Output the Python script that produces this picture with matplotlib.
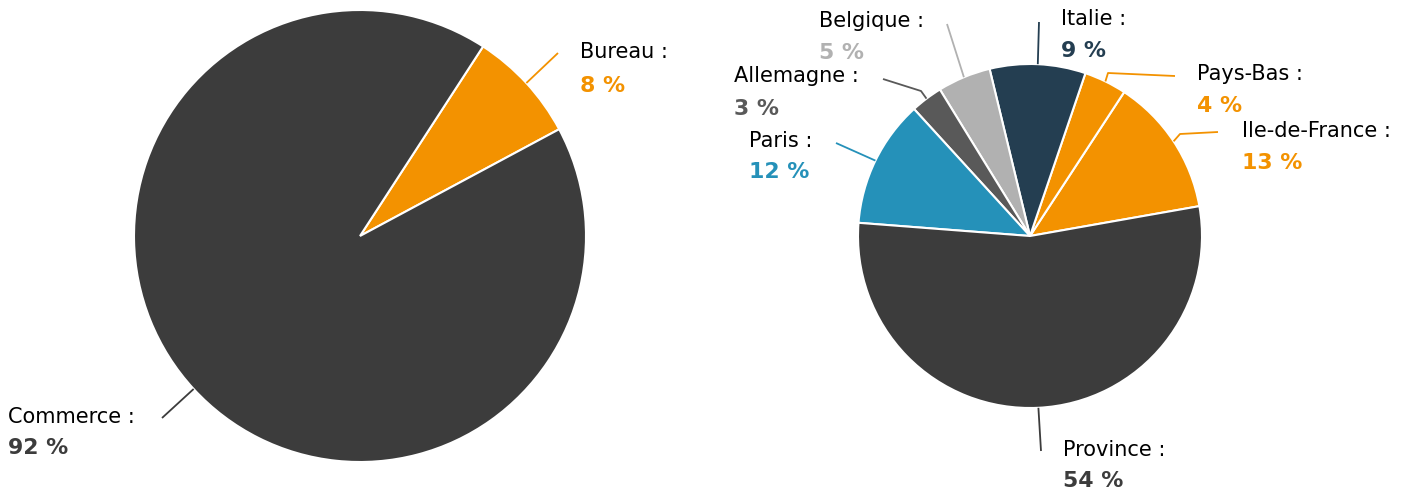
import numpy as np
import matplotlib
matplotlib.use("Agg")
import matplotlib.pyplot as plt

# ---- data ----
left_labels = ["Bureau", "Commerce"]
left_values = [8, 92]
left_colors = ["#f39200", "#3c3c3c"]

right_labels = ["Ile-de-France", "Pays-Bas", "Italie", "Belgique", "Allemagne", "Paris", "Province"]
right_values = [13, 4, 9, 5, 3, 12, 54]
right_colors = ["#f39200", "#f39200", "#243e51", "#b1b1b1", "#595959", "#2591b9", "#3c3c3c"]

W, H = 1407, 493
fig = plt.figure(figsize=(W / 100, H / 100), dpi=100)
ax = fig.add_axes([0, 0, 1, 1])
ax.set_xlim(0, W)
ax.set_ylim(0, H)
ax.set_aspect("equal")
ax.axis("off")

FS_NAME = 15
FS_VAL = 15.8

def Y(y):
    return H - y

def draw_pie(values, labels, colors, center, radius, startangle, layout):
    wedges, _ = ax.pie(values, colors=colors, startangle=startangle, counterclock=True,
                       center=(center[0], Y(center[1])), radius=radius,
                       wedgeprops=dict(edgecolor="white", linewidth=1.5))
    ax.set_xlim(0, W)
    ax.set_ylim(0, H)
    for w, lab, col, val, lay in zip(wedges, labels, colors, values, layout):
        mid = np.deg2rad((w.theta1 + w.theta2) / 2)
        sx = center[0] + radius * np.cos(mid)
        sy = Y(center[1]) + radius * np.sin(mid)
        pts = [(sx, sy)] + [(px, Y(py)) for px, py in lay["line"]]
        xs, ys = zip(*pts)
        ax.plot(xs, ys, color=col, lw=1.3, solid_capstyle="butt")
        tx, ty1, ty2 = lay["text"]
        ax.text(tx, Y(ty1), f"{lab} :", fontsize=FS_NAME, color="black", ha="left", va="baseline")
        ax.text(tx, Y(ty2), f"{val} %", fontsize=FS_VAL, color=col, fontweight="bold",
                ha="left", va="baseline")

left_layout = [
    dict(line=[(558, 53)], text=(580, 58, 92)),
    dict(line=[(162, 418)], text=(8, 423, 454)),
]
right_layout = [
    dict(line=[(1180, 134), (1218, 132)], text=(1242, 137, 169)),
    dict(line=[(1108, 73), (1175, 76)], text=(1197, 80, 112)),
    dict(line=[(1039, 22)], text=(1061, 25, 57)),
    dict(line=[(947, 24)], text=(819, 27, 59)),
    dict(line=[(921, 91), (883, 79)], text=(734, 82, 115)),
    dict(line=[(836, 143)], text=(749, 147, 178)),
    dict(line=[(1041, 451)], text=(1063, 456, 487)),
]

draw_pie(left_values, left_labels, left_colors, (360, 236), 226, 28.2, left_layout)
draw_pie(right_values, right_labels, right_colors, (1030, 236), 172, 10.0, right_layout)

fig.savefig("out.png", dpi=100, facecolor="white")
